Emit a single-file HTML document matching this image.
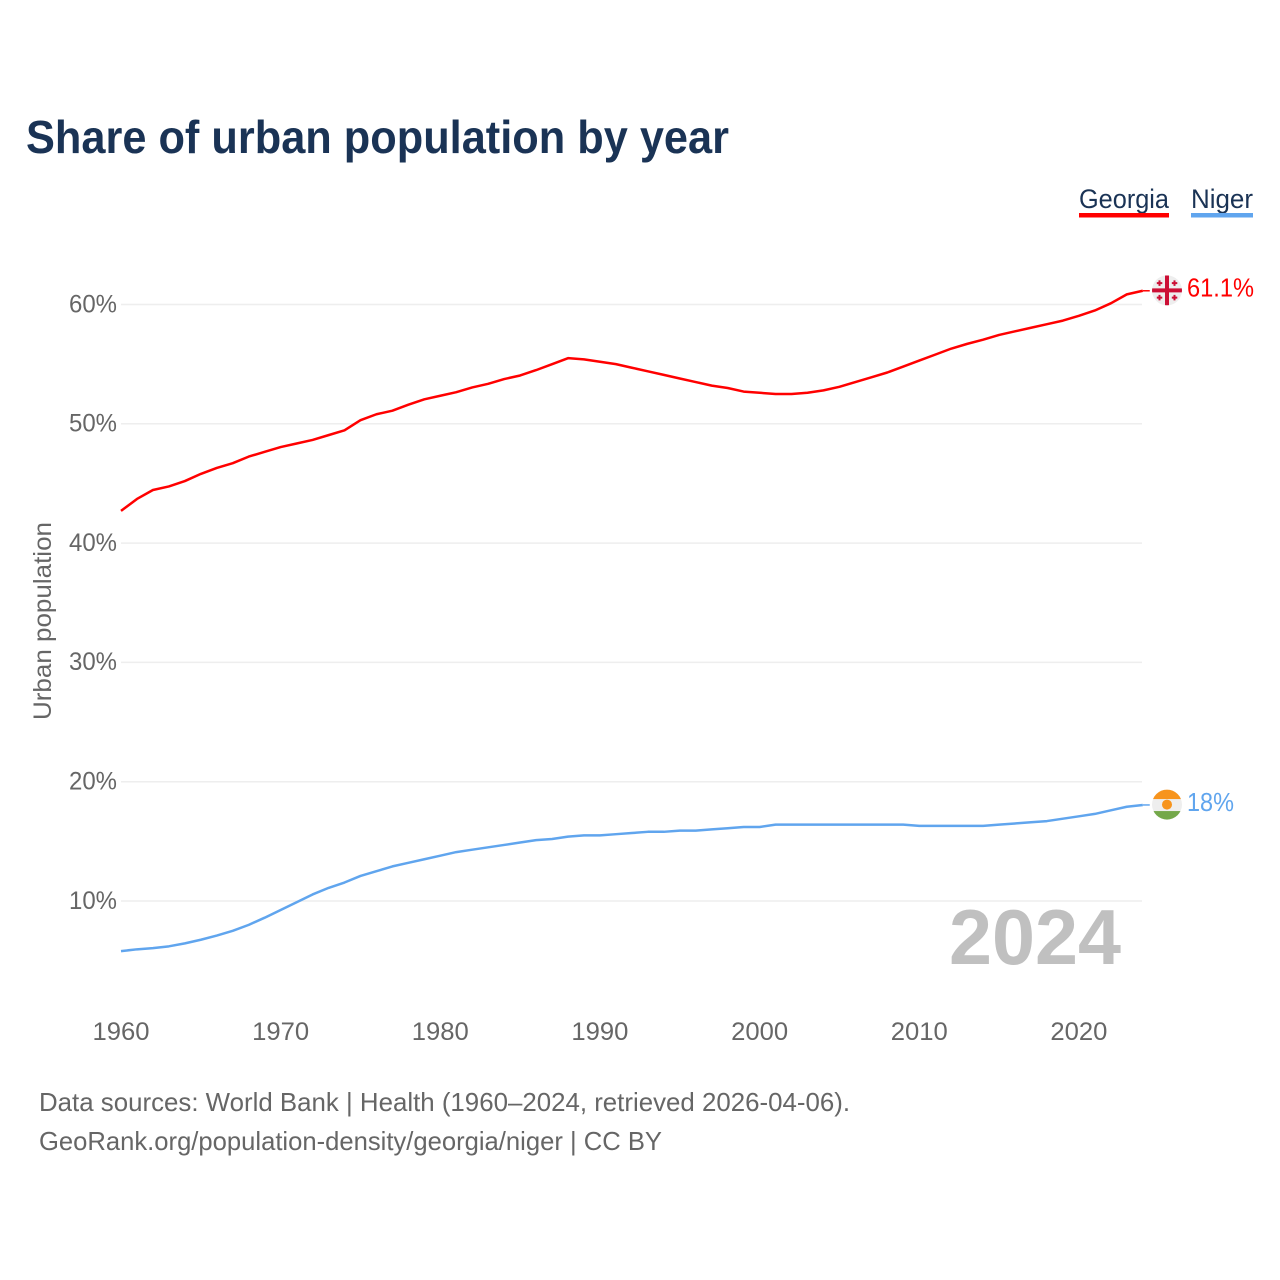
<!DOCTYPE html>
<html lang="en">
<head>
<meta charset="utf-8">
<title>Share of urban population by year</title>
<style>
html,body{margin:0;padding:0;background:#fff;width:1280px;height:1280px;overflow:hidden}
svg{display:block}
text{font-family:"Liberation Sans",sans-serif}
</style>
</head>
<body>
<svg id="chart" xmlns="http://www.w3.org/2000/svg" width="1280" height="1280" viewBox="0 0 1280 1280">
  <defs>
    <clipPath id="clip-georgia"><circle cx="0" cy="0" r="15"></circle></clipPath>
    <clipPath id="clip-niger"><circle cx="0" cy="0" r="15"></circle></clipPath>
  </defs>
  <text x="26" y="153" font-size="46" font-weight="700" fill="#1a3355" textLength="703" lengthAdjust="spacingAndGlyphs">Share of urban population by year</text>

  <g>
    <text x="1079" y="208" font-size="27" fill="#1a3355" textLength="90" lengthAdjust="spacingAndGlyphs">Georgia</text>
    <rect x="1079" y="213" width="90" height="4.5" fill="#ff0000"></rect>
  </g>
  <g>
    <text x="1191" y="208" font-size="27" fill="#1a3355" textLength="62" lengthAdjust="spacingAndGlyphs">Niger</text>
    <rect x="1191" y="213" width="62" height="4.5" fill="#60a5ee"></rect>
  </g>

  <g id="grid"></g>
  <g id="yticks"></g>
  <g id="xticks"></g>

  <text transform="translate(51,720) rotate(-90)" font-size="25" fill="#666666" textLength="198" lengthAdjust="spacingAndGlyphs">Urban population</text>

  <text x="949" y="964" font-size="78" font-weight="700" fill="#c0c0c0" textLength="172" lengthAdjust="spacingAndGlyphs">2024</text>

  <g id="series"></g>

  <g id="flag-georgia">
    <g clip-path="url(#clip-georgia)">
      <rect x="-15" y="-15" width="30" height="30" fill="#eeeeee"></rect>
      <rect x="-15" y="-2" width="30" height="4" fill="#cc0f35"></rect>
      <rect x="-2" y="-15" width="4" height="30" fill="#cc0f35"></rect>
      <path d="M-7.500-10v5.500M-10.200-7.200h5.500M7.500-10v5.500M4.800-7.200h5.500M-7.500 4.500v5.500M-10.200 7.200h5.500M7.500 4.500v5.500M4.800 7.200h5.500" stroke="#cc0f35" stroke-width="2" fill="none"></path>
    </g>
  </g>
  <g id="flag-niger">
    <g clip-path="url(#clip-niger)">
      <rect x="-15" y="-15" width="30" height="30" fill="#eeeeee"></rect>
      <rect x="-15" y="-15" width="30" height="9.500" fill="#f7941d"></rect>
      <rect x="-15" y="6.500" width="30" height="9" fill="#74a84a"></rect>
      <circle cx="0" cy="0" r="5" fill="#f7941d"></circle>
    </g>
  </g>

  <text id="label-georgia" x="1187" font-size="26" fill="#ff0000" textLength="67" lengthAdjust="spacingAndGlyphs"></text>
  <text id="label-niger" x="1187" font-size="26" fill="#60a5ee" textLength="47" lengthAdjust="spacingAndGlyphs"></text>

  <text x="39" y="1111" font-size="26" fill="#666666" textLength="811" lengthAdjust="spacingAndGlyphs">Data sources: World Bank | Health (1960–2024, retrieved 2026-04-06).</text>
  <text x="39" y="1150" font-size="26" fill="#666666" textLength="623" lengthAdjust="spacingAndGlyphs">GeoRank.org/population-density/georgia/niger | CC BY</text>
</svg>
<script>
const startYear = 1960;
const yTickValues = [10, 20, 30, 40, 50, 60];
const yTickLabels = ['10%', '20%', '30%', '40%', '50%', '60%'];
const xTickValues = [1960, 1970, 1980, 1990, 2000, 2010, 2020];
const xTickLabels = ['1960', '1970', '1980', '1990', '2000', '2010', '2020'];
const georgiaValues = [
  42.7, 43.7, 44.45, 44.75, 45.2, 45.8, 46.3, 46.7, 47.25, 47.65,
  48.05, 48.35, 48.65, 49.05, 49.45, 50.3, 50.8, 51.1, 51.6, 52.05,
  52.35, 52.65, 53.05, 53.35, 53.75, 54.05, 54.5, 55.0, 55.5, 55.4,
  55.2, 55.0, 54.7, 54.4, 54.1, 53.8, 53.5, 53.2, 53.0, 52.7,
  52.6, 52.5, 52.5, 52.6, 52.8, 53.1, 53.5, 53.9, 54.3, 54.8,
  55.3, 55.8, 56.3, 56.7, 57.05, 57.45, 57.75, 58.05, 58.35, 58.65,
  59.05, 59.5, 60.1, 60.85, 61.15
];
const nigerValues = [
  5.8, 5.95, 6.05, 6.2, 6.45, 6.75, 7.1, 7.5, 8.0, 8.6,
  9.25, 9.9, 10.55, 11.1, 11.55, 12.1, 12.5, 12.9, 13.2, 13.5,
  13.8, 14.1, 14.3, 14.5, 14.7, 14.9, 15.1, 15.2, 15.4, 15.5,
  15.5, 15.6, 15.7, 15.8, 15.8, 15.9, 15.9, 16.0, 16.1, 16.2,
  16.2, 16.4, 16.4, 16.4, 16.4, 16.4, 16.4, 16.4, 16.4, 16.4,
  16.3, 16.3, 16.3, 16.3, 16.3, 16.4, 16.5, 16.6, 16.7, 16.9,
  17.1, 17.3, 17.6, 17.9, 18.05
];
const georgiaLabel = '61.1%';
const nigerLabel = '18%';

const NS = 'http://www.w3.org/2000/svg';
function xScale(year) { return 121 + (year - 1960) * 15.965; }
function yScale(v) { return 1020.3 - v * 11.93; }
function make(tag, parent, attrs) {
  const el = document.createElementNS(NS, tag);
  for (const k in attrs) el.setAttribute(k, attrs[k]);
  parent.appendChild(el);
  return el;
}

const grid = document.getElementById('grid');
const yticks = document.getElementById('yticks');
const xticks = document.getElementById('xticks');
const series = document.getElementById('series');

yTickValues.forEach(function (v, i) {
  const line = make('line', grid, { x1: xScale(1960), x2: 1142, y1: yScale(v), y2: yScale(v), stroke: '#eeeeee', 'stroke-width': 1.5 });
  
  
  const t = make('text', yticks, { x: 117, y: yScale(v) + 7.8, 'font-size': 25, fill: '#666666', 'text-anchor': 'end', textLength: 48, lengthAdjust: 'spacingAndGlyphs' });
  t.textContent = yTickLabels[i];
  
  
});

xTickValues.forEach(function (v, i) {
  const t = make('text', xticks, { x: xScale(v), y: 1040, 'font-size': 25, fill: '#666666', 'text-anchor': 'middle', textLength: 57, lengthAdjust: 'spacingAndGlyphs' });
  t.textContent = xTickLabels[i];
  
  
});

function linePath(values) {
  return values.map(function (v, i) {
    return (i ? 'L' : 'M') + xScale(startYear + i).toFixed(2) + ' ' + yScale(v).toFixed(2);
  }).join(' ');
}

const georgiaLine = make('path', series, { d: linePath(georgiaValues), fill: 'none', stroke: '#ff0000', 'stroke-width': 2.5, 'stroke-linejoin': 'round' });



const nigerLine = make('path', series, { d: linePath(nigerValues), fill: 'none', stroke: '#60a5ee', 'stroke-width': 2.5, 'stroke-linejoin': 'round' });



function placeEnd(values, flagId, labelId, text, leaderColor) {
  const endY = yScale(values[values.length - 1]);
  const endX = xScale(startYear + values.length - 1);
  const leader = make('line', series, { x1: endX, x2: endX + 7, y1: endY, y2: endY, stroke: leaderColor, 'stroke-width': 1.5 });
  
  
  document.getElementById(flagId).setAttribute('transform', 'translate(1167 ' + (endY - 0.4) + ')');
  const label = document.getElementById(labelId);
  label.setAttribute('y', endY + 5.8);
  label.textContent = text;
}
placeEnd(georgiaValues, 'flag-georgia', 'label-georgia', georgiaLabel, '#ff0000');
placeEnd(nigerValues, 'flag-niger', 'label-niger', nigerLabel, '#60a5ee');
</script>
</body>
</html>
